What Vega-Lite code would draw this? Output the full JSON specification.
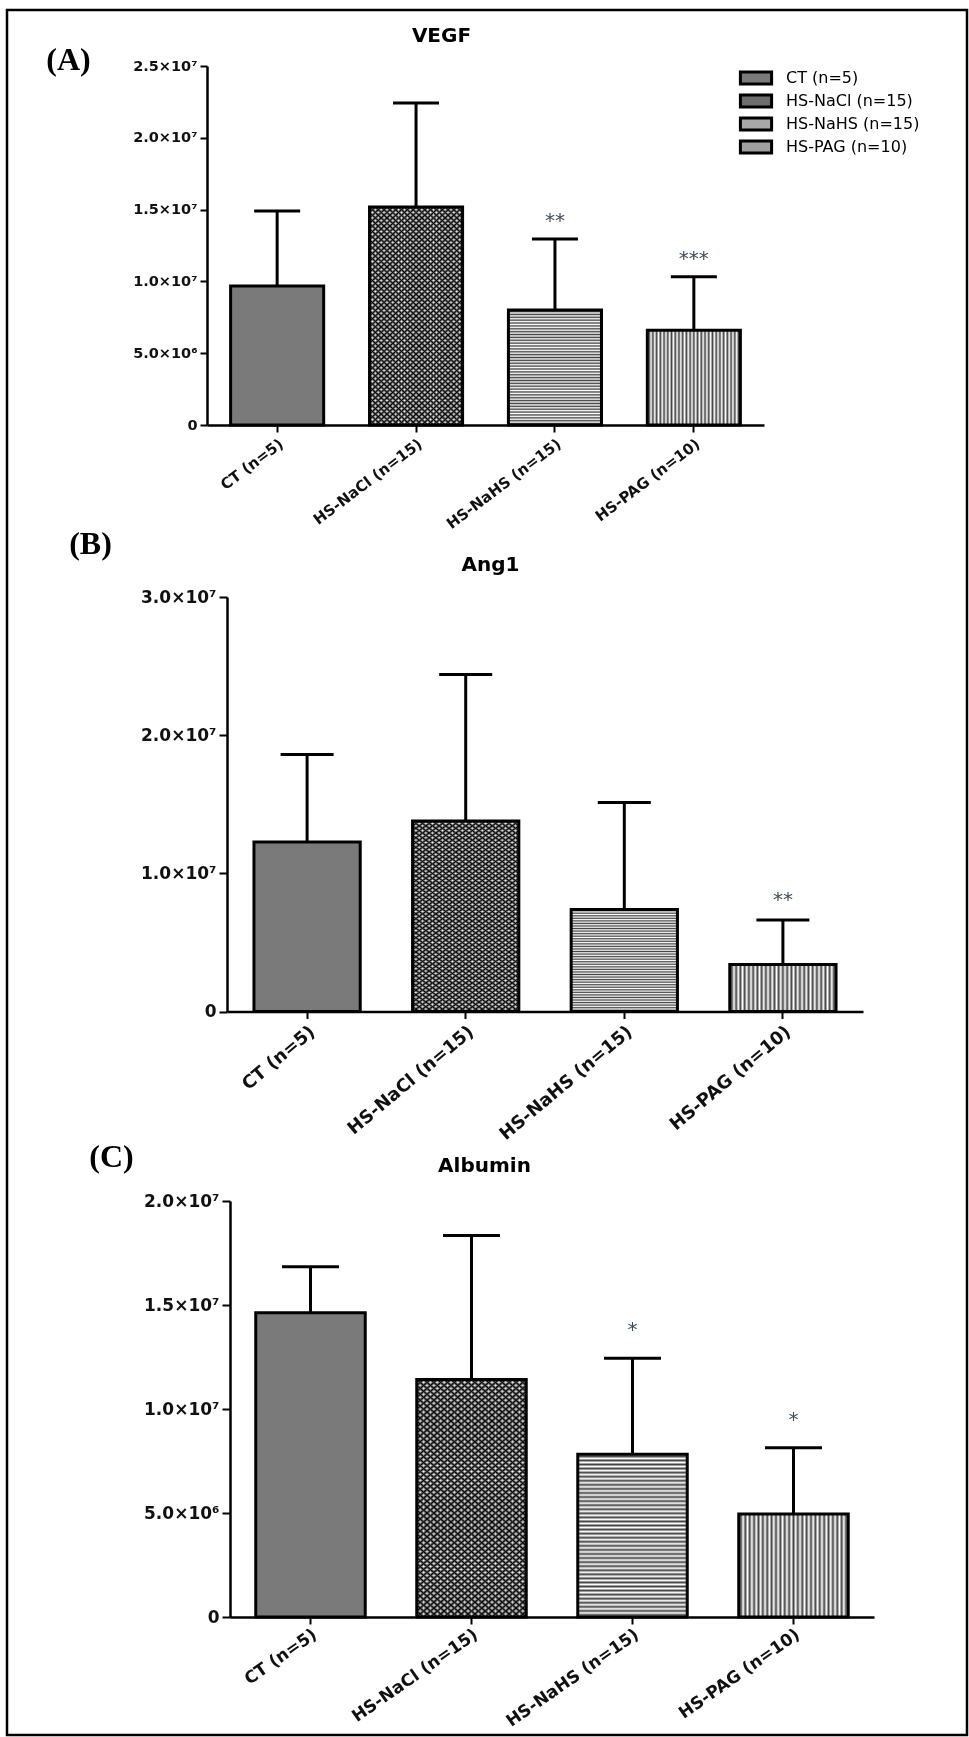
{
  "$schema": "https://vega.github.io/schema/vega-lite/v6.json",
  "width": 960,
  "height": 1725,
  "autosize": {"type": "none"},
  "padding": {"left": 7, "top": 10, "right": 2, "bottom": 2},
  "background": "white",
  "params": [
    {"name": "gNaHS", "value": {"gradient": "linear", "x1": 0, "y1": 0, "x2": 0, "y2": 1, "stops": [{"offset":0,"color":"#fff"},{"offset":0.0125,"color":"#444"},{"offset":0.025,"color":"#fff"},{"offset":0.0375,"color":"#444"},{"offset":0.05,"color":"#fff"},{"offset":0.0625,"color":"#444"},{"offset":0.075,"color":"#fff"},{"offset":0.0875,"color":"#444"},{"offset":0.1,"color":"#fff"},{"offset":0.1125,"color":"#444"},{"offset":0.125,"color":"#fff"},{"offset":0.1375,"color":"#444"},{"offset":0.15,"color":"#fff"},{"offset":0.1625,"color":"#444"},{"offset":0.175,"color":"#fff"},{"offset":0.1875,"color":"#444"},{"offset":0.2,"color":"#fff"},{"offset":0.2125,"color":"#444"},{"offset":0.225,"color":"#fff"},{"offset":0.2375,"color":"#444"},{"offset":0.25,"color":"#fff"},{"offset":0.2625,"color":"#444"},{"offset":0.275,"color":"#fff"},{"offset":0.2875,"color":"#444"},{"offset":0.3,"color":"#fff"},{"offset":0.3125,"color":"#444"},{"offset":0.325,"color":"#fff"},{"offset":0.3375,"color":"#444"},{"offset":0.35,"color":"#fff"},{"offset":0.3625,"color":"#444"},{"offset":0.375,"color":"#fff"},{"offset":0.3875,"color":"#444"},{"offset":0.4,"color":"#fff"},{"offset":0.4125,"color":"#444"},{"offset":0.425,"color":"#fff"},{"offset":0.4375,"color":"#444"},{"offset":0.45,"color":"#fff"},{"offset":0.4625,"color":"#444"},{"offset":0.475,"color":"#fff"},{"offset":0.4875,"color":"#444"},{"offset":0.5,"color":"#fff"},{"offset":0.5125,"color":"#444"},{"offset":0.525,"color":"#fff"},{"offset":0.5375,"color":"#444"},{"offset":0.55,"color":"#fff"},{"offset":0.5625,"color":"#444"},{"offset":0.575,"color":"#fff"},{"offset":0.5875,"color":"#444"},{"offset":0.6,"color":"#fff"},{"offset":0.6125,"color":"#444"},{"offset":0.625,"color":"#fff"},{"offset":0.6375,"color":"#444"},{"offset":0.65,"color":"#fff"},{"offset":0.6625,"color":"#444"},{"offset":0.675,"color":"#fff"},{"offset":0.6875,"color":"#444"},{"offset":0.7,"color":"#fff"},{"offset":0.7125,"color":"#444"},{"offset":0.725,"color":"#fff"},{"offset":0.7375,"color":"#444"},{"offset":0.75,"color":"#fff"},{"offset":0.7625,"color":"#444"},{"offset":0.775,"color":"#fff"},{"offset":0.7875,"color":"#444"},{"offset":0.8,"color":"#fff"},{"offset":0.8125,"color":"#444"},{"offset":0.825,"color":"#fff"},{"offset":0.8375,"color":"#444"},{"offset":0.85,"color":"#fff"},{"offset":0.8625,"color":"#444"},{"offset":0.875,"color":"#fff"},{"offset":0.8875,"color":"#444"},{"offset":0.9,"color":"#fff"},{"offset":0.9125,"color":"#444"},{"offset":0.925,"color":"#fff"},{"offset":0.9375,"color":"#444"},{"offset":0.95,"color":"#fff"},{"offset":0.9625,"color":"#444"},{"offset":0.975,"color":"#fff"},{"offset":0.9875,"color":"#444"},{"offset":1,"color":"#fff"}]}},
    {"name": "gNaClH", "value": {"gradient": "linear", "x1": 0, "y1": 0, "x2": 0, "y2": 1, "stops": [{"offset":0,"color":"#fff"},{"offset":0.0125,"color":"#000"},{"offset":0.025,"color":"#fff"},{"offset":0.0375,"color":"#000"},{"offset":0.05,"color":"#fff"},{"offset":0.0625,"color":"#000"},{"offset":0.075,"color":"#fff"},{"offset":0.0875,"color":"#000"},{"offset":0.1,"color":"#fff"},{"offset":0.1125,"color":"#000"},{"offset":0.125,"color":"#fff"},{"offset":0.1375,"color":"#000"},{"offset":0.15,"color":"#fff"},{"offset":0.1625,"color":"#000"},{"offset":0.175,"color":"#fff"},{"offset":0.1875,"color":"#000"},{"offset":0.2,"color":"#fff"},{"offset":0.2125,"color":"#000"},{"offset":0.225,"color":"#fff"},{"offset":0.2375,"color":"#000"},{"offset":0.25,"color":"#fff"},{"offset":0.2625,"color":"#000"},{"offset":0.275,"color":"#fff"},{"offset":0.2875,"color":"#000"},{"offset":0.3,"color":"#fff"},{"offset":0.3125,"color":"#000"},{"offset":0.325,"color":"#fff"},{"offset":0.3375,"color":"#000"},{"offset":0.35,"color":"#fff"},{"offset":0.3625,"color":"#000"},{"offset":0.375,"color":"#fff"},{"offset":0.3875,"color":"#000"},{"offset":0.4,"color":"#fff"},{"offset":0.4125,"color":"#000"},{"offset":0.425,"color":"#fff"},{"offset":0.4375,"color":"#000"},{"offset":0.45,"color":"#fff"},{"offset":0.4625,"color":"#000"},{"offset":0.475,"color":"#fff"},{"offset":0.4875,"color":"#000"},{"offset":0.5,"color":"#fff"},{"offset":0.5125,"color":"#000"},{"offset":0.525,"color":"#fff"},{"offset":0.5375,"color":"#000"},{"offset":0.55,"color":"#fff"},{"offset":0.5625,"color":"#000"},{"offset":0.575,"color":"#fff"},{"offset":0.5875,"color":"#000"},{"offset":0.6,"color":"#fff"},{"offset":0.6125,"color":"#000"},{"offset":0.625,"color":"#fff"},{"offset":0.6375,"color":"#000"},{"offset":0.65,"color":"#fff"},{"offset":0.6625,"color":"#000"},{"offset":0.675,"color":"#fff"},{"offset":0.6875,"color":"#000"},{"offset":0.7,"color":"#fff"},{"offset":0.7125,"color":"#000"},{"offset":0.725,"color":"#fff"},{"offset":0.7375,"color":"#000"},{"offset":0.75,"color":"#fff"},{"offset":0.7625,"color":"#000"},{"offset":0.775,"color":"#fff"},{"offset":0.7875,"color":"#000"},{"offset":0.8,"color":"#fff"},{"offset":0.8125,"color":"#000"},{"offset":0.825,"color":"#fff"},{"offset":0.8375,"color":"#000"},{"offset":0.85,"color":"#fff"},{"offset":0.8625,"color":"#000"},{"offset":0.875,"color":"#fff"},{"offset":0.8875,"color":"#000"},{"offset":0.9,"color":"#fff"},{"offset":0.9125,"color":"#000"},{"offset":0.925,"color":"#fff"},{"offset":0.9375,"color":"#000"},{"offset":0.95,"color":"#fff"},{"offset":0.9625,"color":"#000"},{"offset":0.975,"color":"#fff"},{"offset":0.9875,"color":"#000"},{"offset":1,"color":"#fff"}]}},
    {"name": "gNaClV", "value": {"gradient": "linear", "x1": 0, "y1": 0, "x2": 1, "y2": 0, "stops": [{"offset":0,"color":"#fff"},{"offset":0.03125,"color":"#000"},{"offset":0.0625,"color":"#fff"},{"offset":0.09375,"color":"#000"},{"offset":0.125,"color":"#fff"},{"offset":0.15625,"color":"#000"},{"offset":0.1875,"color":"#fff"},{"offset":0.21875,"color":"#000"},{"offset":0.25,"color":"#fff"},{"offset":0.28125,"color":"#000"},{"offset":0.3125,"color":"#fff"},{"offset":0.34375,"color":"#000"},{"offset":0.375,"color":"#fff"},{"offset":0.40625,"color":"#000"},{"offset":0.4375,"color":"#fff"},{"offset":0.46875,"color":"#000"},{"offset":0.5,"color":"#fff"},{"offset":0.53125,"color":"#000"},{"offset":0.5625,"color":"#fff"},{"offset":0.59375,"color":"#000"},{"offset":0.625,"color":"#fff"},{"offset":0.65625,"color":"#000"},{"offset":0.6875,"color":"#fff"},{"offset":0.71875,"color":"#000"},{"offset":0.75,"color":"#fff"},{"offset":0.78125,"color":"#000"},{"offset":0.8125,"color":"#fff"},{"offset":0.84375,"color":"#000"},{"offset":0.875,"color":"#fff"},{"offset":0.90625,"color":"#000"},{"offset":0.9375,"color":"#fff"},{"offset":0.96875,"color":"#000"},{"offset":1,"color":"#fff"}]}},
    {"name": "gPAG", "value": {"gradient": "linear", "x1": 0, "y1": 0, "x2": 1, "y2": 0, "stops": [{"offset":0,"color":"#fff"},{"offset":0.02,"color":"#444"},{"offset":0.04,"color":"#fff"},{"offset":0.06,"color":"#444"},{"offset":0.08,"color":"#fff"},{"offset":0.1,"color":"#444"},{"offset":0.12,"color":"#fff"},{"offset":0.14,"color":"#444"},{"offset":0.16,"color":"#fff"},{"offset":0.18,"color":"#444"},{"offset":0.2,"color":"#fff"},{"offset":0.22,"color":"#444"},{"offset":0.24,"color":"#fff"},{"offset":0.26,"color":"#444"},{"offset":0.28,"color":"#fff"},{"offset":0.3,"color":"#444"},{"offset":0.32,"color":"#fff"},{"offset":0.34,"color":"#444"},{"offset":0.36,"color":"#fff"},{"offset":0.38,"color":"#444"},{"offset":0.4,"color":"#fff"},{"offset":0.42,"color":"#444"},{"offset":0.44,"color":"#fff"},{"offset":0.46,"color":"#444"},{"offset":0.48,"color":"#fff"},{"offset":0.5,"color":"#444"},{"offset":0.52,"color":"#fff"},{"offset":0.54,"color":"#444"},{"offset":0.56,"color":"#fff"},{"offset":0.58,"color":"#444"},{"offset":0.6,"color":"#fff"},{"offset":0.62,"color":"#444"},{"offset":0.64,"color":"#fff"},{"offset":0.66,"color":"#444"},{"offset":0.68,"color":"#fff"},{"offset":0.7,"color":"#444"},{"offset":0.72,"color":"#fff"},{"offset":0.74,"color":"#444"},{"offset":0.76,"color":"#fff"},{"offset":0.78,"color":"#444"},{"offset":0.8,"color":"#fff"},{"offset":0.82,"color":"#444"},{"offset":0.84,"color":"#fff"},{"offset":0.86,"color":"#444"},{"offset":0.88,"color":"#fff"},{"offset":0.9,"color":"#444"},{"offset":0.92,"color":"#fff"},{"offset":0.94,"color":"#444"},{"offset":0.96,"color":"#fff"},{"offset":0.98,"color":"#444"},{"offset":1,"color":"#fff"}]}}
  ],
  "datasets": {
    "bars": [
      {"panel": "VEGF", "group": "CT (n=5)", "mean": 9680000, "upper": 14900000, "sig": ""},
      {"panel": "VEGF", "group": "HS-NaCl (n=15)", "mean": 15180000, "upper": 22420000, "sig": ""},
      {"panel": "VEGF", "group": "HS-NaHS (n=15)", "mean": 8000000, "upper": 12950000, "sig": "**"},
      {"panel": "VEGF", "group": "HS-PAG (n=10)", "mean": 6600000, "upper": 10330000, "sig": "***"},
      {"panel": "Ang1", "group": "CT (n=5)", "mean": 12270000, "upper": 18600000, "sig": ""},
      {"panel": "Ang1", "group": "HS-NaCl (n=15)", "mean": 13780000, "upper": 24390000, "sig": ""},
      {"panel": "Ang1", "group": "HS-NaHS (n=15)", "mean": 7390000, "upper": 15130000, "sig": ""},
      {"panel": "Ang1", "group": "HS-PAG (n=10)", "mean": 3400000, "upper": 6620000, "sig": "**"},
      {"panel": "Albumin", "group": "CT (n=5)", "mean": 14630000, "upper": 16840000, "sig": ""},
      {"panel": "Albumin", "group": "HS-NaCl (n=15)", "mean": 11420000, "upper": 18340000, "sig": ""},
      {"panel": "Albumin", "group": "HS-NaHS (n=15)", "mean": 7820000, "upper": 12440000, "sig": "*"},
      {"panel": "Albumin", "group": "HS-PAG (n=10)", "mean": 4950000, "upper": 8140000, "sig": "*"}
    ]
  },
  "data": {"name": "bars"},
  "config": {
    "font": "DejaVu Sans",
    "view": {"stroke": "black", "strokeWidth": 2.5},
    "axis": {"grid": false, "domainColor": "black", "domainWidth": 2.5, "tickColor": "black", "tickWidth": 2, "tickSize": 7, "labelFont": "DejaVu Sans", "labelFontWeight": "bold", "labelColor": "#111", "labelOverlap": false, "titleColor": "black", "titleAngle": 0, "titleAlign": "center", "titleBaseline": "middle"},
    "axisX": {"titleFont": "DejaVu Sans", "titleFontSize": 20, "titleFontWeight": "bold", "labelPadding": 4},
    "axisY": {"titleFont": "Liberation Serif", "titleFontSize": 32, "titleFontWeight": "bold", "labelPadding": 3}
  },
  "layer": [
    {
      "transform": [{"filter": "datum.panel == 'VEGF'"}],
      "encoding": {
        "x": {"field": "group", "type": "nominal",
          "scale": {"domain": ["CT (n=5)", "HS-NaCl (n=15)", "HS-NaHS (n=15)", "HS-PAG (n=10)"], "range": [200, 757], "paddingInner": 0.33, "paddingOuter": 0.17},
          "axis": {"orient": "bottom", "offset": -1310, "title": "VEGF", "titleX": 434, "titleY": -390, "labelFontSize": 15, "labelAngle": -37}},
        "y": {"field": "mean", "type": "quantitative",
          "scale": {"domain": [0, 25000000], "range": [415, 56], "nice": false},
          "axis": {"orient": "left", "offset": -200, "title": "(A)", "titleX": -139, "titleY": 49, "values": [0, 5000000, 10000000, 15000000, 20000000, 25000000], "labelExpr": "datum.value == 0 ? '0' : datum.value == 5000000 ? '5.0×10⁶' : datum.value == 10000000 ? '1.0×10⁷' : datum.value == 15000000 ? '1.5×10⁷' : datum.value == 20000000 ? '2.0×10⁷' : '2.5×10⁷'", "labelFontSize": 14.5}}
      },
      "layer": [
        {"mark": {"type": "bar", "opacity": 1},
         "encoding": {"color": {"field": "group", "type": "nominal", "scale": {"domain": ["CT (n=5)", "HS-NaCl (n=15)", "HS-NaHS (n=15)", "HS-PAG (n=10)"], "range": ["#7a7a7a", "#6e6e6e", "#a8a8a8", "#a0a0a0"]},
           "legend": {"title": null, "orient": "none", "legendX": 741, "legendY": 60, "padding": 0, "symbolType": "M-2.6,-1H2.6V1H-2.6Z", "symbolSize": 144, "symbolStrokeColor": "black", "symbolStrokeWidth": 3, "symbolOpacity": 1, "labelFont": "DejaVu Sans", "labelFontSize": 16, "labelColor": "black", "labelOffset": 22, "rowPadding": -1}}}},
        {"transform": [{"filter": "datum.group == 'HS-NaHS (n=15)'"}], "mark": {"type": "bar", "opacity": 1, "fill": {"expr": "gNaHS"}}},
        {"transform": [{"filter": "datum.group == 'HS-PAG (n=10)'"}], "mark": {"type": "bar", "opacity": 1, "fill": {"expr": "gPAG"}}},
        {"transform": [{"filter": "datum.group == 'HS-NaCl (n=15)'"}], "mark": {"type": "bar", "opacity": 1, "fill": {"expr": "gNaClH"}}},
        {"transform": [{"filter": "datum.group == 'HS-NaCl (n=15)'"}], "mark": {"type": "bar", "opacity": 1, "fill": {"expr": "gNaClV"}, "blend": "difference"}},
        {"mark": {"type": "bar", "filled": false, "stroke": "black", "strokeWidth": 3, "opacity": 1}},
        {"mark": {"type": "rule", "color": "black", "strokeWidth": 3, "opacity": 1}, "encoding": {"y2": {"field": "upper"}}},
        {"mark": {"type": "tick", "color": "black", "thickness": 3, "size": 46, "opacity": 1}, "encoding": {"y": {"field": "upper", "type": "quantitative"}}},
        {"mark": {"type": "text", "dy": -18, "fontSize": 20, "color": "#3f4a5c", "baseline": "middle"}, "encoding": {"y": {"field": "upper", "type": "quantitative"}, "text": {"field": "sig"}}}
      ]
    },
    {
      "transform": [{"filter": "datum.panel == 'Ang1'"}],
      "encoding": {
        "x": {"field": "group", "type": "nominal",
          "scale": {"domain": ["CT (n=5)", "HS-NaCl (n=15)", "HS-NaHS (n=15)", "HS-PAG (n=10)"], "range": [220, 856], "paddingInner": 0.33, "paddingOuter": 0.17},
          "axis": {"orient": "bottom", "offset": -723.5, "title": "Ang1", "titleX": 483, "titleY": -447.5, "labelFontSize": 18, "labelAngle": -40}},
        "y": {"field": "mean", "type": "quantitative",
          "scale": {"domain": [0, 30000000], "range": [1001.5, 587], "nice": false},
          "axis": {"orient": "left", "offset": -220, "title": "(B)", "titleX": -137, "titleY": 533, "tickSize": 8, "values": [0, 10000000, 20000000, 30000000], "labelExpr": "datum.value == 0 ? '0' : datum.value == 10000000 ? '1.0×10⁷' : datum.value == 20000000 ? '2.0×10⁷' : '3.0×10⁷'", "labelFontSize": 17}}
      },
      "layer": [
        {"mark": {"type": "bar", "opacity": 1},
         "encoding": {"color": {"field": "group", "type": "nominal", "scale": {"domain": ["CT (n=5)", "HS-NaCl (n=15)", "HS-NaHS (n=15)", "HS-PAG (n=10)"], "range": ["#7a7a7a", "#6e6e6e", "#a8a8a8", "#a0a0a0"]},
           "legend": {"title": null, "orient": "none", "legendX": 741, "legendY": 60, "padding": 0, "symbolType": "M-2.6,-1H2.6V1H-2.6Z", "symbolSize": 144, "symbolStrokeColor": "black", "symbolStrokeWidth": 3, "symbolOpacity": 1, "labelFont": "DejaVu Sans", "labelFontSize": 16, "labelColor": "black", "labelOffset": 22, "rowPadding": -1}}}},
        {"transform": [{"filter": "datum.group == 'HS-NaHS (n=15)'"}], "mark": {"type": "bar", "opacity": 1, "fill": {"expr": "gNaHS"}}},
        {"transform": [{"filter": "datum.group == 'HS-PAG (n=10)'"}], "mark": {"type": "bar", "opacity": 1, "fill": {"expr": "gPAG"}}},
        {"transform": [{"filter": "datum.group == 'HS-NaCl (n=15)'"}], "mark": {"type": "bar", "opacity": 1, "fill": {"expr": "gNaClH"}}},
        {"transform": [{"filter": "datum.group == 'HS-NaCl (n=15)'"}], "mark": {"type": "bar", "opacity": 1, "fill": {"expr": "gNaClV"}, "blend": "difference"}},
        {"mark": {"type": "bar", "filled": false, "stroke": "black", "strokeWidth": 3, "opacity": 1}},
        {"mark": {"type": "rule", "color": "black", "strokeWidth": 3, "opacity": 1}, "encoding": {"y2": {"field": "upper"}}},
        {"mark": {"type": "tick", "color": "black", "thickness": 3, "size": 53, "opacity": 1}, "encoding": {"y": {"field": "upper", "type": "quantitative"}}},
        {"mark": {"type": "text", "dy": -20, "fontSize": 20, "color": "#3f4a5c", "baseline": "middle"}, "encoding": {"y": {"field": "upper", "type": "quantitative"}, "text": {"field": "sig"}}}
      ]
    },
    {
      "transform": [{"filter": "datum.panel == 'Albumin'"}],
      "encoding": {
        "x": {"field": "group", "type": "nominal",
          "scale": {"domain": ["CT (n=5)", "HS-NaCl (n=15)", "HS-NaHS (n=15)", "HS-PAG (n=10)"], "range": [223, 867], "paddingInner": 0.32, "paddingOuter": 0.16},
          "axis": {"orient": "bottom", "offset": -118, "title": "Albumin", "titleX": 477, "titleY": -452, "labelFontSize": 17, "labelAngle": -35, "labelPadding": 2}},
        "y": {"field": "mean", "type": "quantitative",
          "scale": {"domain": [0, 20000000], "range": [1607, 1191], "nice": false},
          "axis": {"orient": "left", "offset": -223, "title": "(C)", "titleX": -119, "titleY": 1146, "tickSize": 8, "values": [0, 5000000, 10000000, 15000000, 20000000], "labelExpr": "datum.value == 0 ? '0' : datum.value == 5000000 ? '5.0×10⁶' : datum.value == 10000000 ? '1.0×10⁷' : datum.value == 15000000 ? '1.5×10⁷' : '2.0×10⁷'", "labelFontSize": 17}}
      },
      "layer": [
        {"mark": {"type": "bar", "opacity": 1},
         "encoding": {"color": {"field": "group", "type": "nominal", "scale": {"domain": ["CT (n=5)", "HS-NaCl (n=15)", "HS-NaHS (n=15)", "HS-PAG (n=10)"], "range": ["#7a7a7a", "#6e6e6e", "#a8a8a8", "#a0a0a0"]},
           "legend": {"title": null, "orient": "none", "legendX": 741, "legendY": 60, "padding": 0, "symbolType": "M-2.6,-1H2.6V1H-2.6Z", "symbolSize": 144, "symbolStrokeColor": "black", "symbolStrokeWidth": 3, "symbolOpacity": 1, "labelFont": "DejaVu Sans", "labelFontSize": 16, "labelColor": "black", "labelOffset": 22, "rowPadding": -1}}}},
        {"transform": [{"filter": "datum.group == 'HS-NaHS (n=15)'"}], "mark": {"type": "bar", "opacity": 1, "fill": {"expr": "gNaHS"}}},
        {"transform": [{"filter": "datum.group == 'HS-PAG (n=10)'"}], "mark": {"type": "bar", "opacity": 1, "fill": {"expr": "gPAG"}}},
        {"transform": [{"filter": "datum.group == 'HS-NaCl (n=15)'"}], "mark": {"type": "bar", "opacity": 1, "fill": {"expr": "gNaClH"}}},
        {"transform": [{"filter": "datum.group == 'HS-NaCl (n=15)'"}], "mark": {"type": "bar", "opacity": 1, "fill": {"expr": "gNaClV"}, "blend": "difference"}},
        {"mark": {"type": "bar", "filled": false, "stroke": "black", "strokeWidth": 3, "opacity": 1}},
        {"mark": {"type": "rule", "color": "black", "strokeWidth": 3, "opacity": 1}, "encoding": {"y2": {"field": "upper"}}},
        {"mark": {"type": "tick", "color": "black", "thickness": 3, "size": 57, "opacity": 1}, "encoding": {"y": {"field": "upper", "type": "quantitative"}}},
        {"mark": {"type": "text", "dy": -28, "fontSize": 20, "color": "#3f4a5c", "baseline": "middle"}, "encoding": {"y": {"field": "upper", "type": "quantitative"}, "text": {"field": "sig"}}}
      ]
    }
  ],
  "resolve": {"scale": {"x": "independent", "y": "independent"}, "axis": {"x": "independent", "y": "independent"}}
}
